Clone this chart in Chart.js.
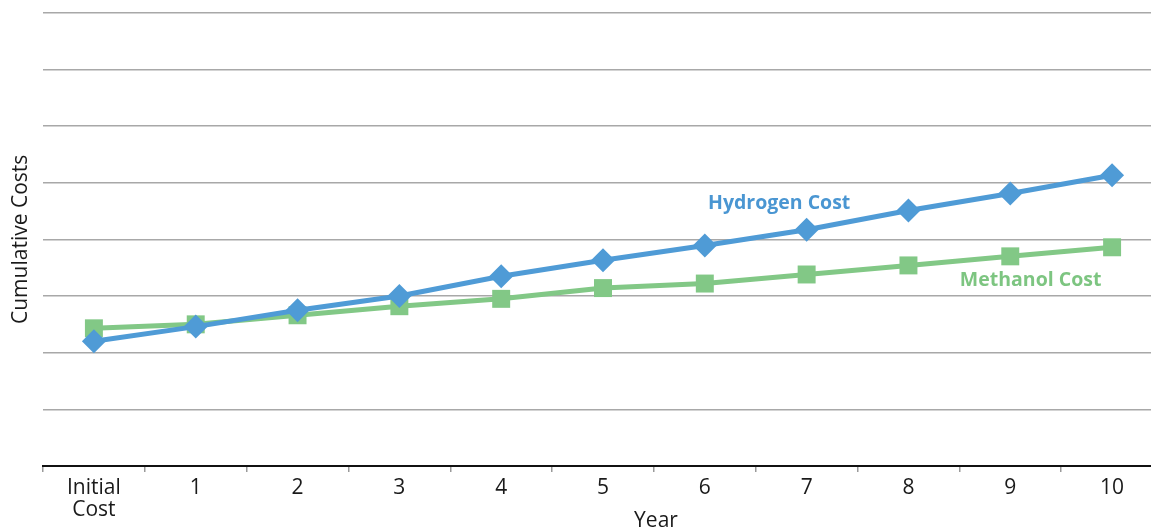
<!DOCTYPE html>
<html>
<head>
<meta charset="utf-8">
<script src="https://cdn.jsdelivr.net/npm/chart.js@4"></script>
<style>
  html, body { margin: 0; padding: 0; background: #fff; overflow: hidden; }
  #wrap { position: relative; width: 1151px; height: 531px; }
  #chart { display: block; }
</style>
</head>
<body>
<div id="wrap"><canvas id="chart" width="1151" height="531" style="width:1151px;height:531px"></canvas></div>
<script>
// Years of operation, starting with the up-front purchase
const categories = [['Initial', 'Cost'], '1', '2', '3', '4', '5', '6', '7', '8', '9', '10'];

// Cumulative cost per year (relative units)
const hydrogenCost = [2.20, 2.46, 2.75, 3.00, 3.35, 3.63, 3.89, 4.17, 4.51, 4.81, 5.13];
const methanolCost = [2.43, 2.50, 2.66, 2.82, 2.95, 3.14, 3.22, 3.38, 3.54, 3.70, 3.86];

// Value axis range (no numeric labels shown)
const yMin = 0;
const yMax = 8;
const yStep = 1;

// Series names written next to their lines: [category position, value]
const seriesLabels = [
  { text: 'Hydrogen Cost', at: [6.73, 4.63], color: '#4A96D2' },
  { text: 'Methanol Cost', at: [9.2, 3.27], color: '#7DC581' }
];

const FONT = '"Open Sans", Lato, sans-serif';
const PLOT_OVERHANG = 12; // the last year band runs slightly past the canvas edge

// Stretch the category axis past the right edge of the canvas
const overhangPlugin = {
  id: 'overhang',
  afterLayout(chart) {
    const x = chart.scales.x;
    const right = chart.width + PLOT_OVERHANG;
    x.right = right;
    x.width = right - x.left;
    x.configure();
    chart.chartArea.right = right;
    chart.chartArea.width = right - chart.chartArea.left;
  }
};

const labelPlugin = {
  id: 'seriesLabels',
  afterDatasetsDraw(chart) {
    const { ctx, scales: { x, y } } = chart;
    ctx.save();
    ctx.font = 'bold 19.5px ' + FONT;
    ctx.textAlign = 'center';
    ctx.textBaseline = 'middle';
    seriesLabels.forEach(l => {
      ctx.fillStyle = l.color;
      ctx.fillText(l.text, x.getPixelForValue(l.at[0]), y.getPixelForValue(l.at[1]));
    });
    // axis name under the category labels
    ctx.font = '21px ' + FONT;
    ctx.fillStyle = '#1a1a1a';
    ctx.fillText('Year', 656, 521);
    ctx.restore();
  }
};

new Chart(document.getElementById('chart'), {
  type: 'line',
  data: {
    labels: categories,
    datasets: [
      {
        label: 'Hydrogen Cost',
        data: hydrogenCost,
        borderColor: '#4F9BD6',
        backgroundColor: '#4F9BD6',
        borderWidth: 5,
        pointStyle: 'rectRot',
        pointRadius: 12,
        pointHoverRadius: 12,
        pointBorderWidth: 0,
        tension: 0,
        clip: false
      },
      {
        label: 'Methanol Cost',
        data: methanolCost,
        borderColor: '#82C886',
        backgroundColor: '#82C886',
        borderWidth: 5,
        pointStyle: 'rect',
        pointRadius: 12.7,
        pointHoverRadius: 12.7,
        pointBorderWidth: 0,
        tension: 0,
        clip: false
      }
    ]
  },
  options: {
    responsive: false,
    animation: false,
    devicePixelRatio: 1,
    layout: { padding: { top: 12, right: 0, left: 0, bottom: 0 } },
    plugins: {
      legend: { display: false },
      tooltip: { enabled: false }
    },
    scales: {
      x: {
        offset: true,
        afterFit(scale) {
          scale.height = 65;
          scale.paddingLeft = 0;
          scale.paddingRight = 0;
        },
        border: { display: true, color: '#111', width: 2 },
        grid: {
          display: true,
          offset: true,
          drawOnChartArea: false,
          drawTicks: true,
          tickLength: 6,
          color: '#9a9a9a',
          lineWidth: 1.5
        },
        ticks: {
          padding: 5,
          color: '#1a1a1a',
          maxRotation: 0,
          autoSkip: false,
          font: { family: FONT, size: 21, lineHeight: 1.05 }
        }
      },
      y: {
        min: yMin,
        max: yMax,
        afterFit(scale) { scale.width = 43; },
        border: { display: false },
        grid: {
          drawTicks: false,
          color: ctx => (ctx.tick && ctx.tick.value === yMin ? 'rgba(0,0,0,0)' : '#a8a8a8'),
          lineWidth: 1.5
        },
        ticks: { display: false, stepSize: yStep },
        title: {
          display: true,
          text: 'Cumulative Costs',
          color: '#1a1a1a',
          padding: { top: 8, bottom: 0 },
          font: { family: FONT, size: 21, lineHeight: 1.2 }
        }
      }
    }
  },
  plugins: [overhangPlugin, labelPlugin]
});
</script>
</body>
</html>
